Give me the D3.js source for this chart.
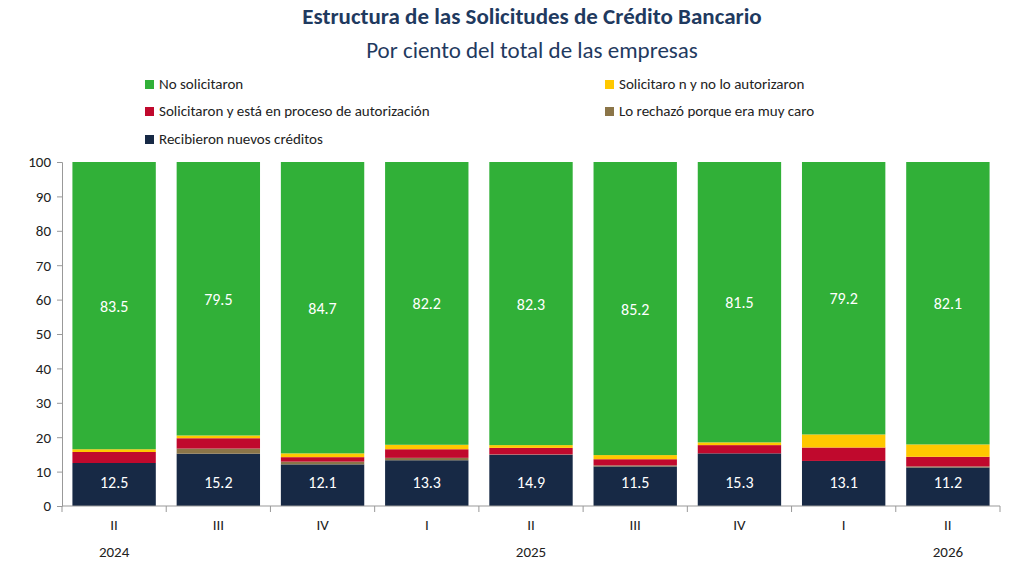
<!DOCTYPE html><html><head><meta charset="utf-8"><script src="https://cdn.jsdelivr.net/npm/d3@7"></script>
<style>body{margin:0;background:#fff}text{font-family:Calibri,Carlito,"Open Sans",sans-serif}</style></head><body><svg id="c" width="1024" height="565"></svg><script>
const categories=["II","III","IV","I","II","III","IV","I","II"];
const years=[["2024",0],["2025",4],["2026",8]];
const recibieron=[12.5,15.2,12.1,13.3,14.9,11.5,15.3,13.1,11.2];
const rechazo=[0,1.5,0.8,0.7,0.1,0.3,0,0,0.3];
const proceso=[3.2,3.0,1.3,2.5,1.9,1.8,2.4,3.9,2.8];
const noAutorizaron=[0.8,0.8,1.1,1.3,0.8,1.2,0.8,3.8,3.6];
const noSolicitaron=[83.5,79.5,84.7,82.2,82.3,85.2,81.5,79.2,82.1];
const yTicks=[0,10,20,30,40,50,60,70,80,90,100];
const series=[
 {name:"Recibieron nuevos créditos",v:recibieron,c:"#172945",label:true},
 {name:"Lo rechazó porque era muy caro",v:rechazo,c:"#8b7548"},
 {name:"Solicitaron y está en proceso de autorización",v:proceso,c:"#c0092d"},
 {name:"Solicitaro n y no lo autorizaron",v:noAutorizaron,c:"#ffc800"},
 {name:"No solicitaron",v:noSolicitaron,c:"#31b038",label:true}];
const svg=d3.select("#c");
const L=62,R=1000,T=162,B=506;
const x=d3.scaleBand().domain(d3.range(categories.length)).range([L,R]).paddingInner(0.2).paddingOuter(0.1);
const y=d3.scaleLinear().domain([0,100]).range([B,T]);
svg.append("text").attr("x",532).attr("y",24).attr("text-anchor","middle").attr("font-size",23).attr("font-weight","bold").attr("fill","#1f3a5f").text("Estructura de las Solicitudes de Crédito Bancario");
svg.append("text").attr("x",532).attr("y",58).attr("text-anchor","middle").attr("font-size",23).attr("fill","#1f3a5f").text("Por ciento del total de las empresas");
const leg=[[4,145,85],[3,605,85],[2,145,112],[1,605,112],[0,145,140]];
leg.forEach(([i,lx,ly])=>{svg.append("rect").attr("x",lx).attr("y",ly-5).attr("width",9).attr("height",9).attr("fill",series[i].c);
 svg.append("text").attr("x",lx+14).attr("y",ly+4).attr("font-size",15).attr("fill","#222").text(series[i].name);});
const stack=d3.stack().keys(d3.range(series.length)).value((d,k)=>series[k].v[d])(d3.range(categories.length));
stack.forEach((s,k)=>{svg.append("g").selectAll("rect").data(s).join("rect")
 .attr("x",(d,i)=>x(i)).attr("width",x.bandwidth()).attr("y",d=>y(d[1])).attr("height",d=>y(d[0])-y(d[1])).attr("fill",series[k].c);
 if(series[k].label) svg.append("g").selectAll("text").data(s).join("text").attr("x",(d,i)=>x(i)+x.bandwidth()/2)
 .attr("y",d=>k==0?y(d[0])-18:y((d[0]+d[1])/2)+6).attr("text-anchor","middle").attr("fill","#fff").attr("font-size",16)
 .text((d,i)=>series[k].v[i].toFixed(1));});
const ax=svg.append("g").attr("transform",`translate(${L},0)`).call(d3.axisLeft(y).tickValues(yTicks).tickSize(5).tickPadding(6));
ax.selectAll("text").attr("font-size",15).attr("fill","#222");ax.selectAll("line,path").attr("stroke","#999");
svg.append("line").attr("x1",L).attr("x2",R).attr("y1",B).attr("y2",B).attr("stroke","#999");
const step=x.step();
for(let i=0;i<=categories.length;i++){const xx=L+(R-L)*i/categories.length;svg.append("line").attr("x1",xx).attr("x2",xx).attr("y1",B).attr("y2",B+6).attr("stroke","#999");}
categories.forEach((c,i)=>svg.append("text").attr("x",x(i)+x.bandwidth()/2).attr("y",530).attr("text-anchor","middle").attr("font-size",15).attr("fill","#222").text(c));
years.forEach(([t,i])=>svg.append("text").attr("x",x(i)+x.bandwidth()/2).attr("y",557).attr("text-anchor","middle").attr("font-size",15).attr("fill","#222").text(t));
</script></body></html>
